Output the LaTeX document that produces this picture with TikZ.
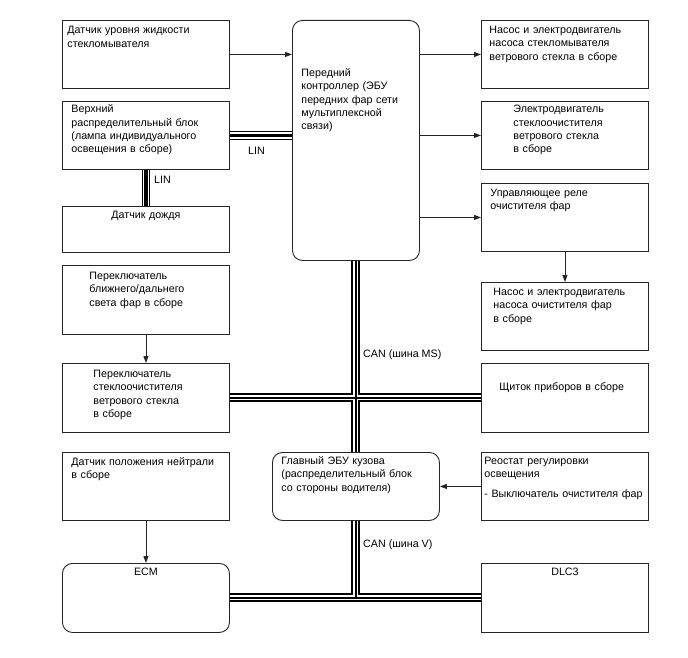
\documentclass[tikz,border=0pt]{standalone}
\usepackage{fontspec}
\setmainfont{Liberation Sans}
\usepackage{tikz}
\usetikzlibrary{arrows.meta, positioning, calc}
\tikzset{every path/.style={line join=miter}, >={Triangle[length=7pt, width=5pt]}}

\begin{document}
\begin{tikzpicture}[
    x=1pt, y=-1pt,
    font=\fontsize{10.7}{13.3}\selectfont,
    % width, indent, baseline offset, height
    box/.style n args={4}{
        draw=black!85,
        line width=0.9pt,
        anchor=north west,
        align=left,
        inner ysep=0pt,
        inner xsep=#2,
        text width={#1-2*#2},
        text height=#3,
        text depth={#4-#3}
    },
    cbox/.style n args={3}{
        draw=black!85,
        line width=0.9pt,
        anchor=north west,
        align=center,
        inner ysep=0pt,
        inner xsep=0pt,
        text width=#1,
        text height=#2,
        text depth={#3-#2}
    },
    rbox/.style={rounded corners=10pt},
    flow/.style={->, line width=0.9pt, draw=black!85},
    canbus/.style={line width=9pt, draw=black,
        postaction={draw=white, line width=5pt},
        postaction={draw=black, line width=1.2pt}},
    linbus/.style={line width=8.5pt, draw=black,
        postaction={draw=white, line width=6.2pt},
        postaction={draw=black, line width=3.6pt}},
    buslabel/.style={anchor=west, inner sep=0pt}
]
\useasboundingbox (0,0) rectangle (688,658);

% left column
\node[box={167pt}{5pt}{13.5pt}{68pt}] (level) at (62,20)
{Датчик уровня жидкости\\стекломывателя};

\node[box={167pt}{9pt}{11.5pt}{68pt}] (upperjb) at (62,101)
{Верхний\\распределительный блок\\(лампа индивидуального\\освещения в сборе)};

\node[cbox={167pt}{12pt}{46pt}] (rain) at (62,206)
{Датчик дождя};

\node[box={167pt}{27pt}{14pt}{69pt}] (beamsw) at (62,265)
{Переключатель\\ближнего/дальнего\\света фар в сборе};

\node[box={167pt}{31pt}{14pt}{69pt}] (wipersw) at (62,363)
{Переключатель\\стеклоочистителя\\ветрового стекла\\в сборе};

\node[box={167pt}{9pt}{13pt}{68pt}] (neutral) at (62,452)
{Датчик положения нейтрали\\в сборе};

\node[cbox={167pt}{12pt}{69pt}, rbox] (ecm) at (62,563)
{ECM};

% centre column
\node[box={127pt}{9pt}{56pt}{240pt}, rbox] (frontctrl) at (292,20)
{Передний\\контроллер (ЭБУ\\передних фар сети\\мультиплексной\\связи)};

\node[box={167pt}{9pt}{12pt}{68pt}, rbox] (mainbody) at (272,452)
{Главный ЭБУ кузова\\(распределительный блок\\со стороны водителя)};

% right column
\node[box={167pt}{8pt}{13pt}{68pt}] (washpump) at (481,20)
{Насос и электродвигатель\\насоса стекломывателя\\ветрового стекла в сборе};

\node[box={167pt}{32pt}{11.5pt}{68pt}] (wipermotor) at (481,101)
{Электродвигатель\\стеклоочистителя\\ветрового стекла\\в сборе};

\node[box={167pt}{9pt}{13pt}{68pt}] (hlrelay) at (481,183)
{Управляющее реле\\очистителя фар};

\node[box={167pt}{12pt}{13pt}{68pt}] (hlpump) at (481,282)
{Насос и электродвигатель\\насоса очистителя фар\\в сборе};

\node[box={167pt}{18pt}{27pt}{69pt}] (meter) at (481,363)
{Щиток приборов в сборе};

\node[box={167pt}{3pt}{12pt}{68pt}] (rheostat) at (481,452)
{Реостат регулировки\\освещения\\[6pt]- Выключатель очистителя фар};

\node[cbox={167pt}{12pt}{69pt}] (dlc) at (481,563)
{DLC3};

% signal arrows
\draw[flow] (level.east) -- (level.east -| frontctrl.west);
\draw[flow] (washpump.west -| frontctrl.east) -- (washpump.west);
\draw[flow] (wipermotor.west -| frontctrl.east) -- (wipermotor.west);
\draw[flow] (hlrelay.west -| frontctrl.east) -- (hlrelay.west);
\draw[flow] (hlrelay.south) -- (hlpump.north);
\draw[flow] (beamsw.south) -- (wipersw.north);
\draw[flow] (neutral.south) -- (ecm.north);
\draw[flow] (rheostat.west) -- (rheostat.west -| mainbody.east);

% LIN
\draw[linbus] (upperjb.east) -- (upperjb.east -| frontctrl.west)
              (upperjb.south) -- (rain.north);
\node[buslabel] (linh) at (248,151) {LIN};
\node[buslabel] (linv) at (154,180) {LIN};

% CAN
\draw[canbus] (frontctrl.south) -- (frontctrl.south |- mainbody.north)
              (wipersw.east) -- (meter.west);
\draw[canbus] (frontctrl.south |- mainbody.south) -- (frontctrl.south |- ecm.east)
              (ecm.east) -- (dlc.west);
\node[buslabel] (canms) at (363,355) {CAN (шина MS)};
\node[buslabel] (canv) at (363,545) {CAN (шина V)};

\end{tikzpicture}
\end{document}
